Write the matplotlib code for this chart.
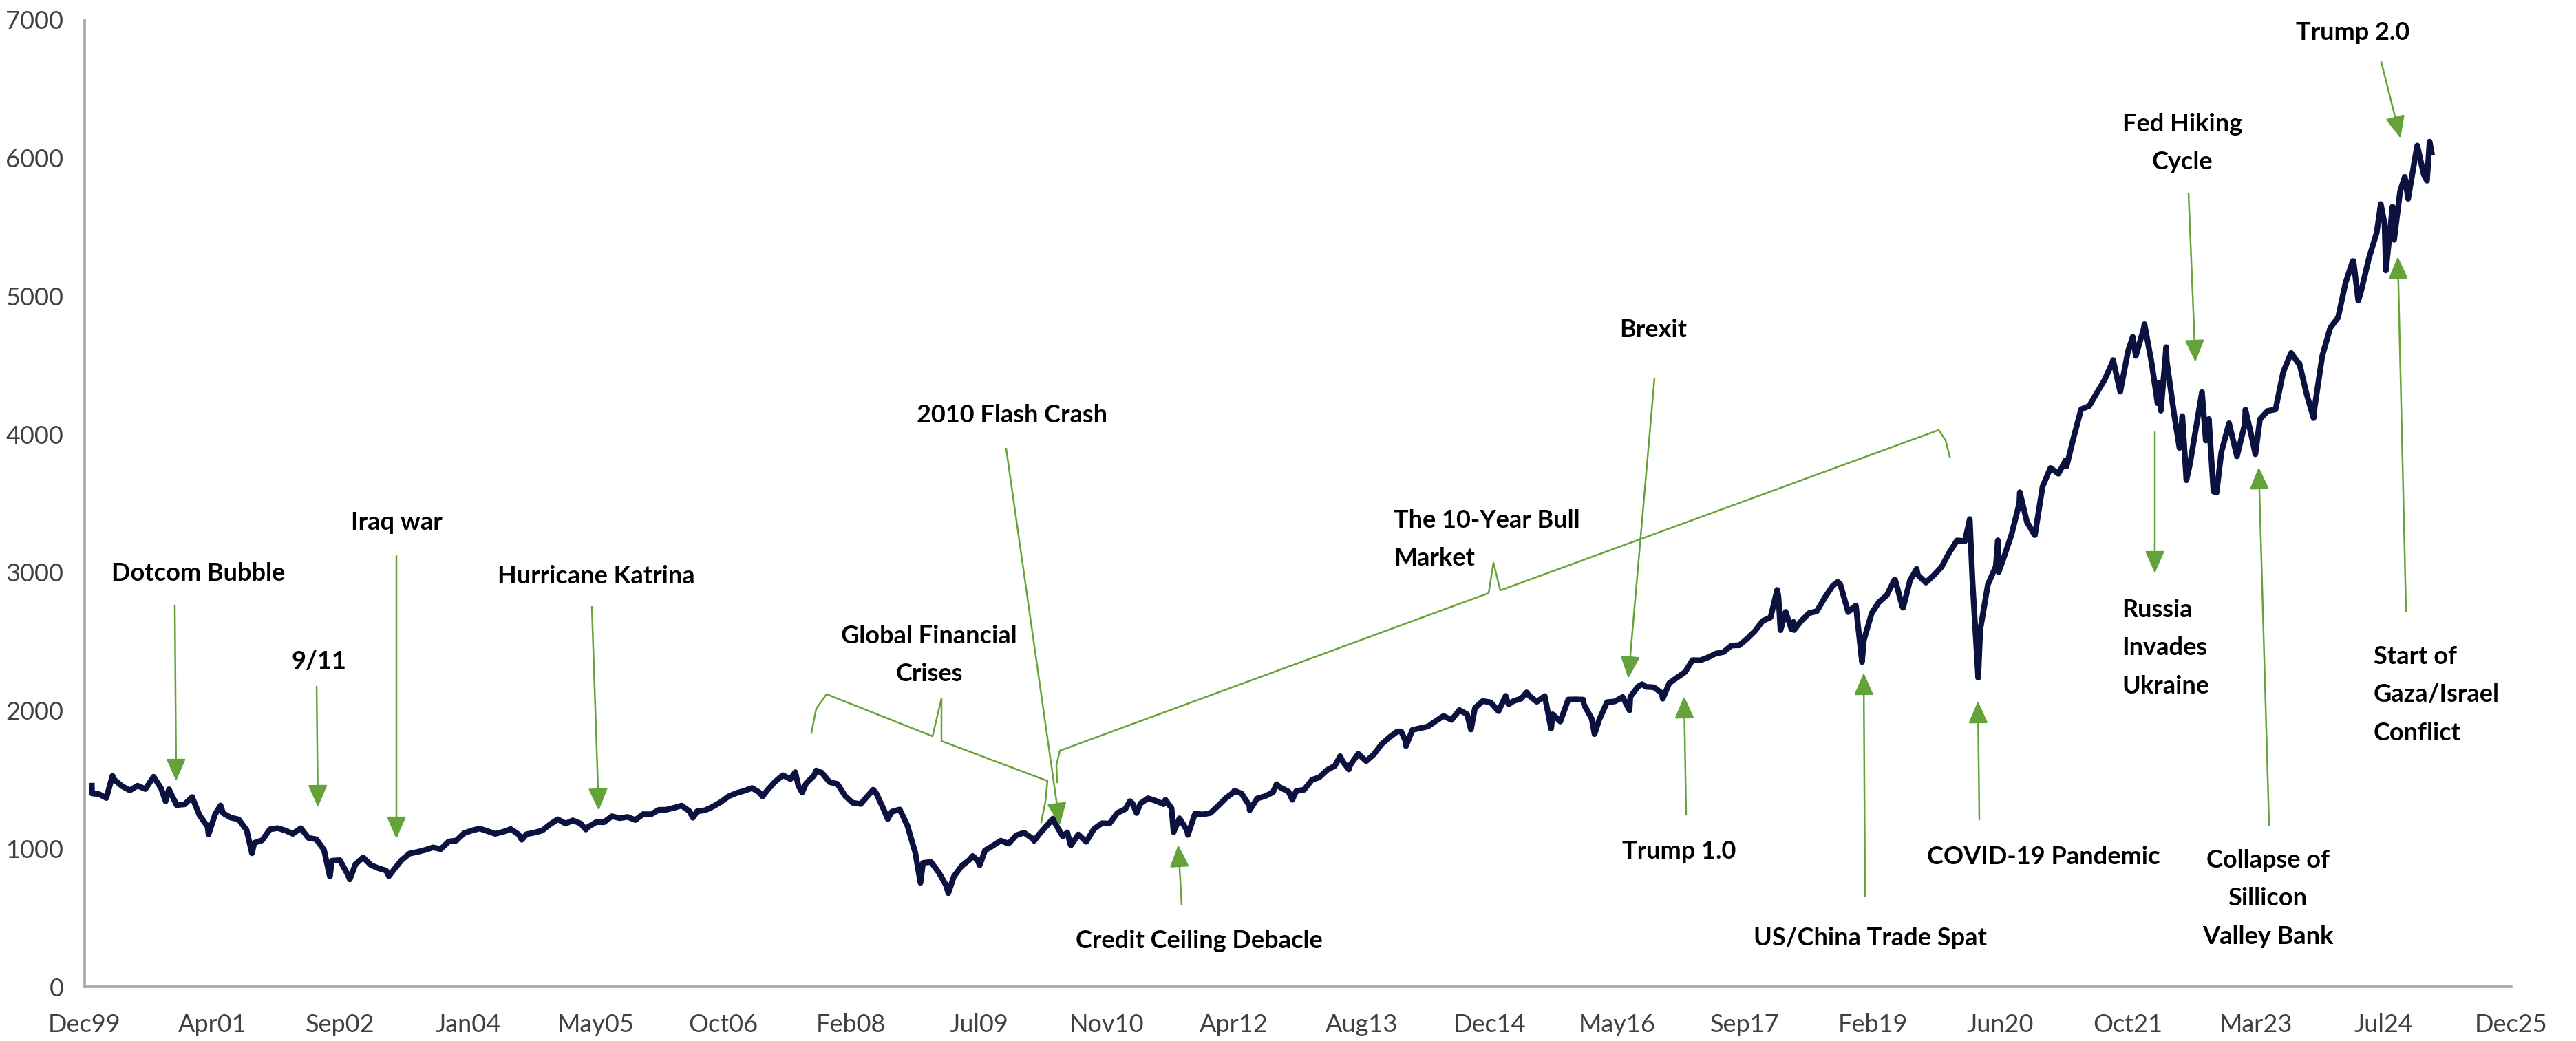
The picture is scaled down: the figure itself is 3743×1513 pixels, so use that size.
import pandas as pd
import matplotlib
matplotlib.use('Agg')
import matplotlib.pyplot as plt
from matplotlib import font_manager
from matplotlib.lines import Line2D

W, H, DPI = 3743, 1513, 200

# S&P 500 month-end closes (Jan 2000 .. Jan 2025)
close_2000s = [1394, 1366, 1499, 1452, 1421, 1455, 1431, 1518, 1437, 1429, 1315, 1320,
               1366, 1240, 1160, 1249, 1256, 1224, 1211, 1134, 1041, 1060, 1139, 1148,
               1130, 1107, 1147, 1077, 1067, 990, 912, 916, 815, 886, 936, 880,
               856, 841, 848, 917, 964, 975, 990, 1008, 996, 1051, 1058, 1112,
               1131, 1145, 1126, 1107, 1121, 1141, 1102, 1104, 1115, 1130, 1174, 1212,
               1181, 1204, 1181, 1157, 1192, 1191, 1234, 1220, 1229, 1207, 1249, 1248,
               1280, 1281, 1295, 1311, 1270, 1270, 1277, 1304, 1336, 1378, 1401, 1418,
               1438, 1407, 1421, 1482, 1531, 1503, 1455, 1474, 1527, 1549, 1481, 1468,
               1379, 1331, 1323, 1386, 1400, 1280, 1267, 1283, 1166, 969, 896, 903,
               826, 735, 798, 873, 919, 919, 987, 1021, 1057, 1036, 1096, 1115]
close_2010s = [1074, 1104, 1169, 1187, 1089, 1031, 1102, 1049, 1141, 1183, 1181, 1258,
               1286, 1327, 1326, 1364, 1345, 1321, 1292, 1219, 1131, 1253, 1247, 1258,
               1312, 1366, 1408, 1398, 1310, 1362, 1379, 1407, 1441, 1412, 1416, 1426,
               1498, 1515, 1569, 1598, 1631, 1606, 1686, 1633, 1682, 1757, 1806, 1848,
               1783, 1859, 1872, 1884, 1924, 1960, 1931, 2003, 1972, 2018, 2068, 2059,
               1995, 2105, 2068, 2086, 2107, 2063, 2104, 1972, 1920, 2079, 2080, 2044,
               1940, 1932, 2060, 2065, 2097, 2099, 2174, 2171, 2168, 2126, 2199, 2239,
               2279, 2364, 2363, 2384, 2412, 2423, 2470, 2472, 2519, 2575, 2648, 2674,
               2824, 2714, 2641, 2648, 2705, 2718, 2816, 2902, 2914, 2712, 2760, 2507,
               2704, 2784, 2834, 2946, 2752, 2942, 2980, 2926, 2977, 3038, 3141, 3231]
close_2020s = [3226, 2954, 2585, 2912, 3044, 3100, 3271, 3500, 3363, 3270, 3622, 3756,
               3714, 3811, 3973, 4181, 4204, 4298, 4395, 4523, 4308, 4605, 4567, 4766,
               4516, 4374, 4530, 4132, 4132, 3785, 4130, 3955, 3586, 3872, 4080, 3840,
               4077, 3970, 4109, 4169, 4180, 4450, 4589, 4508, 4288, 4194, 4568, 4770,
               4846, 5096, 5254, 5036, 5278, 5460, 5522, 5648, 5762, 5705, 6032, 5882,
               6041]

# intra-month highs and lows visible on the line
extra_dates = ['2000-01-03', '2000-01-04', '2000-03-24', '2000-09-01', '2000-10-18',
               '2001-01-30', '2001-04-04', '2001-05-21', '2001-09-21', '2002-07-23',
               '2002-10-09', '2003-03-11', '2004-08-12', '2005-04-20', '2006-06-13',
               '2007-03-13', '2007-07-19', '2007-08-15', '2007-10-09', '2008-05-19',
               '2008-07-15', '2008-11-20', '2009-03-09', '2009-06-12', '2009-07-10',
               '2010-02-08', '2010-04-23', '2010-06-18', '2010-07-02', '2011-02-18',
               '2011-03-16', '2011-07-07', '2011-08-08', '2011-10-03', '2012-04-02',
               '2012-06-01', '2012-09-14', '2012-11-15', '2013-05-21', '2013-06-24',
               '2014-01-15', '2014-02-03', '2014-10-15', '2015-03-11', '2015-05-21',
               '2015-08-25', '2015-12-29', '2016-02-11', '2016-06-27', '2016-08-15',
               '2016-11-04', '2018-01-26', '2018-02-08', '2018-03-23', '2018-04-02',
               '2018-09-20', '2018-12-24', '2019-05-03', '2019-06-03', '2019-07-26',
               '2020-02-19', '2020-03-23', '2020-06-08', '2020-06-11', '2020-09-02',
               '2020-10-30', '2021-03-04', '2021-09-02', '2021-11-18', '2022-01-03',
               '2022-02-23', '2022-03-08', '2022-03-29', '2022-05-20', '2022-06-16',
               '2022-08-16', '2022-09-12', '2022-10-12', '2023-02-02', '2023-03-13',
               '2023-09-01', '2023-10-27', '2024-03-28', '2024-04-19', '2024-07-16',
               '2024-08-05', '2024-09-06', '2024-10-18', '2024-12-06', '2025-01-13',
               '2025-01-23']
extra_values = [1455, 1399, 1527, 1520, 1342,
                1373, 1103, 1312, 966, 797,
                777, 800, 1064, 1138, 1223,
                1377, 1553, 1406, 1565, 1426,
                1214, 752, 677, 946, 879,
                1056, 1217, 1117, 1023, 1343,
                1257, 1353, 1119, 1099, 1419,
                1278, 1466, 1353, 1669, 1573,
                1848, 1742, 1862, 2044, 2131,
                1868, 2078, 1829, 2001, 2190,
                2085, 2873, 2581, 2588, 2582,
                2931, 2351, 2945, 2744, 3025,
                3386, 2237, 3232, 3002, 3580,
                3270, 3768, 4537, 4705, 4797,
                4225, 4171, 4631, 3901, 3667,
                4305, 4110, 3577, 4179, 3855,
                4516, 4117, 5254, 4967, 5667,
                5186, 5408, 5864, 6090, 5836,
                6119]

y_ticks = [0, 1000, 2000, 3000, 4000, 5000, 6000, 7000]
axis_start = '1999-12-06'   # Excel date axis, major unit 500 days

GREEN = '#64A23A'
NAVY = '#0B1240'

monthly = close_2000s + close_2010s + close_2020s
idx = pd.date_range('2000-01-31', periods=len(monthly), freq='ME')
s = pd.concat([pd.Series(monthly, index=idx),
               pd.Series(extra_values, index=pd.to_datetime(extra_dates))]).sort_index()

# narrow font if there is one, Calibri-like otherwise
installed = {f.name for f in font_manager.fontManager.ttflist}
if 'Liberation Sans Narrow' in installed:
    FONT, NOTE_SIZE, TICK_SIZE = 'Liberation Sans Narrow', 14.5, 13.5
else:
    FONT, NOTE_SIZE, TICK_SIZE = 'Lato', 13, 13
plt.rcParams['font.family'] = [FONT, 'DejaVu Sans']

fig = plt.figure(figsize=(W / DPI, H / DPI), dpi=DPI)
ax = fig.add_axes([123 / W, 1 - 1434 / H, (3649 - 123) / W, (1434 - 29) / H])
ax.plot(s.index, s.values, color=NAVY, lw=3.0, solid_joinstyle='round')

ticks = pd.date_range(axis_start, periods=20, freq='500D')
ax.set_xlim(ticks[0], ticks[-1])
ax.set_xticks(ticks)
ax.set_xticklabels([t.strftime('%b%y') for t in ticks])
ax.set_ylim(0, 7000)
ax.set_yticks(y_ticks)
for side in ['top', 'right']:
    ax.spines[side].set_visible(False)
for side in ['left', 'bottom']:
    ax.spines[side].set_color('#A6A6A6')
    ax.spines[side].set_linewidth(1.3)
ax.tick_params(length=0, labelsize=TICK_SIZE, colors='#404040')
ax.tick_params(axis='y', pad=11)
ax.tick_params(axis='x', pad=14)


def fp(x, y):
    # full-size pixel (from top-left) -> figure fraction
    return (x / W, 1 - y / H)


def note(text, x, y, ha='center'):
    fig.text(*fp(x, y), text, ha=ha, va='center', multialignment=ha,
             fontsize=NOTE_SIZE, fontweight='bold', color='black', linespacing=1.85)


def arrow(tail, tip):
    ax.annotate('', xy=fp(*tip), xytext=fp(*tail), xycoords='figure fraction',
                textcoords='figure fraction', annotation_clip=False,
                arrowprops=dict(arrowstyle='-|>,head_length=0.5,head_width=0.22',
                                color=GREEN, lw=0.9, mutation_scale=20,
                                shrinkA=0, shrinkB=0))


def brace(pts):
    xs = [p[0] / W for p in pts]
    ys = [1 - p[1] / H for p in pts]
    fig.add_artist(Line2D(xs, ys, transform=fig.transFigure, color=GREEN, lw=0.9))


note('Dotcom Bubble', 288, 834)
arrow((254, 880), (256, 1135))
note('9/11', 463, 961)
arrow((460, 998), (462, 1173))
note('Iraq war', 576, 760)
arrow((576, 808), (576, 1219))
note('Hurricane Katrina', 866, 838)
arrow((860, 882), (870, 1178))

note('Global Financial\nCrises', 1350, 952)
brace([(1179, 1065), (1186, 1030), (1201, 1009), (1355, 1070), (1368, 1015),
       (1368, 1077), (1522, 1135), (1519, 1165), (1513, 1195)])
note('2010 Flash Crash', 1471, 603)
arrow((1462, 652), (1540, 1199))
note('Credit Ceiling Debacle', 1742, 1368)
arrow((1717, 1315), (1712, 1228))

note('The 10-Year Bull\nMarket', 2025, 784, ha='left')
brace([(1536, 1137), (1535, 1112), (1540, 1091), (2163, 862), (2170, 818),
       (2180, 858), (2817, 625), (2827, 640), (2833, 664)])
note('Brexit', 2402, 480)
arrow((2404, 550), (2366, 986))
note('Trump 1.0', 2440, 1238)
arrow((2450, 1184), (2447, 1012))
note('US/China Trade Spat', 2717, 1363)
arrow((2710, 1303), (2708, 978))
note('COVID-19 Pandemic', 2969, 1245)
arrow((2876, 1191), (2874, 1019))

note('Russia\nInvades\nUkraine', 3083, 942, ha='left')
arrow((3131, 628), (3131, 833))
note('Collapse of\nSillicon\nValley Bank', 3295, 1306)
arrow((3297, 1199), (3282, 679))
note('Start of\nGaza/Israel\nConflict', 3449, 1010, ha='left')
arrow((3496, 888), (3484, 373))
note('Fed Hiking\nCycle', 3171, 208)
arrow((3180, 281), (3190, 526))
note('Trump 2.0', 3419, 48)
arrow((3460, 90), (3488, 201))

fig.savefig('out.png', dpi=DPI)
